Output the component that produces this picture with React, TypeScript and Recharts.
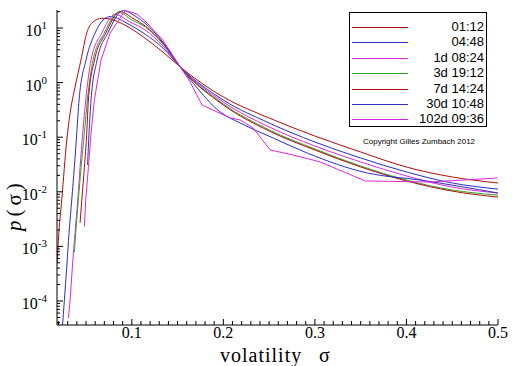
import { LineChart, Line, XAxis, YAxis, Legend } from 'recharts';

// series labels and colours (legend order)
const seriesNames = ['01:12', '04:48', '1d 08:24', '3d 19:12', '7d 14:24', '30d 10:48', '102d 09:36'];
const seriesColors = ['#b00c0c', '#2d2dc8', '#dc28dc', '#2ca52c', '#b00c0c', '#2d2dc8', '#dc28dc'];
const seriesCurve = ['monotone', 'monotone', 'monotone', 'monotone', 'monotone', 'monotone', 'linear'];

// volatility sigma and density p(sigma)
const sigma0112 = [0.0185, 0.0198, 0.0235, 0.029, 0.0326, 0.038, 0.0445, 0.0508, 0.0577, 0.0672, 0.0763, 0.0981, 0.1146, 0.1342, 0.153, 0.2, 0.25, 0.3, 0.35, 0.4, 0.45, 0.5];
const p0112 = [5.0e-4, 1.3e-3, 7.1e-3, 0.089, 0.275, 0.83, 2.6, 8.1, 12.9, 15.1, 14.6, 10, 6.5, 3.6, 1.93, 0.544, 0.225, 0.105, 0.0536, 0.0284, 0.0187, 0.0145];

const sigma0448 = [0.024, 0.0264, 0.029, 0.0315, 0.0344, 0.0373, 0.0399, 0.0424, 0.05, 0.0599, 0.0686, 0.0763, 0.0981, 0.1146, 0.134, 0.153, 0.2, 0.25, 0.3, 0.35, 0.4, 0.45, 0.5];
const p0448 = [3.0e-5, 1.05e-4, 4.3e-4, 1.8e-3, 7.1e-3, 0.029, 0.12, 0.48, 2.6, 8.1, 14, 16.2, 11.4, 7.7, 4.3, 1.93, 0.48, 0.182, 0.0817, 0.0416, 0.0231, 0.0145, 0.0112];

const sigma1d = [0.0307, 0.0326, 0.0351, 0.038, 0.041, 0.0435, 0.0464, 0.0497, 0.0555, 0.0672, 0.0817, 0.098, 0.1146, 0.134, 0.153, 0.2, 0.25, 0.3, 0.35, 0.4, 0.45, 0.5];
const p1d = [4.9e-5, 1.05e-4, 4.2e-4, 1.8e-3, 7.1e-3, 0.028, 0.12, 0.48, 2.6, 8.1, 17.8, 12.9, 9.2, 4.7, 1.93, 0.44, 0.154, 0.069, 0.0352, 0.0195, 0.0122, 0.0095];

const sigma3d = [0.0373, 0.0388, 0.0416, 0.0446, 0.0482, 0.0515, 0.0577, 0.07, 0.0854, 0.1003, 0.1146, 0.134, 0.153, 0.2, 0.25, 0.3, 0.35, 0.4, 0.45, 0.5];
const p3d = [7.9e-4, 1.8e-3, 7.1e-3, 0.028, 0.12, 0.48, 2.6, 8.1, 19.5, 14, 10.5, 5.1, 1.93, 0.406, 0.136, 0.0608, 0.0297, 0.0164, 0.0108, 0.0087];

const sigma7d = [0.0435, 0.0454, 0.0482, 0.0508, 0.0526, 0.0593, 0.0716, 0.0872, 0.1014, 0.1146, 0.134, 0.153, 0.2, 0.25, 0.3, 0.35, 0.4, 0.45, 0.5];
const p7d = [2.7e-3, 7.1e-3, 0.028, 0.12, 0.48, 2.6, 8.1, 20, 15, 10.9, 5.3, 1.93, 0.389, 0.13, 0.0583, 0.0285, 0.0158, 0.0103, 0.008];

const sigma30d = [0.0517, 0.0533, 0.0555, 0.0621, 0.0738, 0.0908, 0.1036, 0.1146, 0.134, 0.153, 0.167, 0.1965, 0.2184, 0.2545, 0.2916, 0.3572, 0.4151, 0.5];
const p30d = [0.031, 0.12, 0.48, 2.6, 8.1, 20.9, 16.6, 12.2, 5.5, 1.93, 0.98, 0.29, 0.182, 0.0966, 0.0513, 0.0221, 0.0164, 0.0095];

const sigma102d = [0.0482, 0.0497, 0.0526, 0.0555, 0.0591, 0.0664, 0.0763, 0.0927, 0.1058, 0.1146, 0.134, 0.153, 0.1637, 0.1768, 0.2074, 0.2184, 0.2326, 0.2512, 0.2763, 0.3058, 0.355, 0.426, 0.4993];
const p102d = [2.3e-3, 7.1e-3, 0.028, 0.12, 0.48, 2.6, 8.1, 21, 18, 13.4, 6.0, 1.93, 1.03, 0.389, 0.225, 0.207, 0.147, 0.0583, 0.0472, 0.0352, 0.0158, 0.0151, 0.0179];

const sigmas = [sigma0112, sigma0448, sigma1d, sigma3d, sigma7d, sigma30d, sigma102d];
const probs = [p0112, p0448, p1d, p3d, p7d, p30d, p102d];

// axis ticks
const xMajor = [0.1, 0.2, 0.3, 0.4, 0.5];
const xTicks = Array.from({ length: 49 }, (_, i) => (i + 2) / 100);
const yMajorExp = [-4, -3, -2, -1, 0, 1];
const yDomain = [3.63e-5, 21.4];
const yTicks: number[] = [];
for (let e = -5; e <= 1; e++) {
  for (let m = 1; m <= 9; m++) {
    const v = m * Math.pow(10, e);
    if (v >= yDomain[0] && v <= yDomain[1]) yTicks.push(v);
  }
}

const serif = 'Liberation Serif, DejaVu Serif, serif';
const sans = 'Liberation Sans, Arial, sans-serif';

const rows = sigmas.map((s, i) => s.map((x, j) => ({ s: x, p: probs[i][j] })));

const XTick = (props: any) => {
  const { x, y, payload } = props;
  const v = payload.value;
  const major = xMajor.some(m => Math.abs(m - v) < 1e-6);
  return (
    <g>
      <line x1={x} x2={x} y1={y} y2={y - (major ? 6 : 4)} stroke="#000" />
      {major && (
        <text x={x} y={y + 13} textAnchor="middle" style={{ fontFamily: serif, fontSize: 16 }} fill="#000">
          {String(v)}
        </text>
      )}
    </g>
  );
};

const YTick = (props: any) => {
  const { x, y, payload } = props;
  const lg = Math.log10(payload.value);
  const exp = Math.round(lg);
  const major = Math.abs(lg - exp) < 1e-6 && yMajorExp.includes(exp);
  return (
    <g>
      <line x1={x} x2={x + (major ? 6 : 3)} y1={y} y2={y} stroke="#000" />
      {major && (
        <text x={x - 10} y={y + 8} textAnchor="end" style={{ fontFamily: serif, fontSize: 16 }} fill="#000">
          <tspan>10</tspan>
          <tspan dy={-7} style={{ fontSize: 11 }}>{String(exp)}</tspan>
        </text>
      )}
    </g>
  );
};

const renderLegend = () => (
  <div style={{ position: 'relative', width: 140, height: 150 }}>
    <div style={{ position: 'absolute', left: 0, top: 0, width: 136, height: 113, border: '1px solid #000', background: '#fff' }}>
      {seriesNames.map((n, i) => {
        const cy = Math.round(14 + i * 15.4);
        return (
          <div key={n}>
            <div style={{ position: 'absolute', left: 2, top: cy, width: 56, height: 1, background: seriesColors[i] }} />
            <div style={{ position: 'absolute', right: 2, top: cy - 8, fontFamily: sans, fontSize: 13, lineHeight: '16px', color: '#000', whiteSpace: 'nowrap' }}>{n}</div>
          </div>
        );
      })}
    </div>
    <div style={{ position: 'absolute', left: 0, top: 125, width: 140, textAlign: 'center', fontFamily: sans, fontSize: 8, color: '#000' }}>
      Copyright Gilles Zumbach 2012
    </div>
  </div>
);

export default function App() {
  return (
    <div style={{ position: 'absolute', left: 0, top: 0, background: '#fff' }}>
      <LineChart width={512} height={366} margin={{ top: 10, right: 14, bottom: 0, left: 0 }}>
        <XAxis
          type="number"
          dataKey="s"
          domain={[0.0183, 0.5]}
          allowDataOverflow
          ticks={xTicks}
          interval={0}
          tick={XTick}
          tickLine={false}
          tickSize={0}
          tickMargin={0}
          height={41}
          axisLine={{ stroke: '#000' }}
          label={() => (
            <text y={362} style={{ fontFamily: serif, fontSize: 20, letterSpacing: 1 }} fill="#000">
              <tspan x={220}>volatility</tspan>
              <tspan x={319}>σ</tspan>
            </text>
          )}
        />
        <YAxis
          type="number"
          scale="log"
          domain={yDomain}
          allowDataOverflow
          ticks={yTicks}
          interval={0}
          tick={YTick}
          tickLine={false}
          tickSize={0}
          tickMargin={0}
          width={57}
          axisLine={{ stroke: '#000' }}
          label={() => (
            <text x={0} y={0} transform="translate(21, 231) rotate(-90)" style={{ fontFamily: serif, fontSize: 21, letterSpacing: 4 }} fill="#000">
              <tspan style={{ fontStyle: 'italic' }}>p</tspan>(σ)
            </text>
          )}
        />
        <Legend
          layout="vertical"
          align="center"
          verticalAlign="middle"
          content={renderLegend}
          wrapperStyle={{ left: 349, top: 12, width: 140, height: 150 }}
        />
        {rows.map((d, i) => (
          <Line
            key={seriesNames[i]}
            data={d}
            dataKey="p"
            name={seriesNames[i]}
            type={seriesCurve[i] as any}
            stroke={seriesColors[i]}
            strokeWidth={1}
            dot={false}
            isAnimationActive={false}
          />
        ))}
      </LineChart>
    </div>
  );
}
